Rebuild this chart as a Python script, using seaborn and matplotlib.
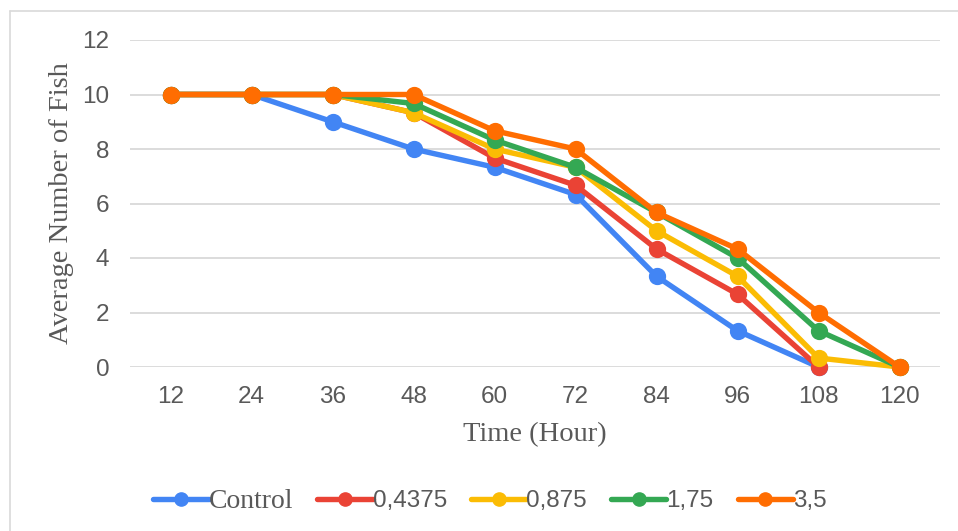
import numpy as np
import pandas as pd
import matplotlib
matplotlib.use("Agg")
import matplotlib.pyplot as plt
from matplotlib.lines import Line2D
import seaborn as sns

hours = ["12", "24", "36", "48", "60", "72", "84", "96", "108", "120"]
control = [10, 10, 9, 8, 7.33, 6.33, 3.33, 1.33, 0, np.nan]
c_04375 = [10, 10, 10, 9.33, 7.67, 6.67, 4.33, 2.67, 0, np.nan]
c_0875 = [10, 10, 10, 9.33, 8, 7.33, 5, 3.33, 0.33, 0]
c_175 = [10, 10, 10, 9.67, 8.33, 7.33, 5.67, 4, 1.33, 0]
c_35 = [10, 10, 10, 10, 8.67, 8, 5.67, 4.33, 2, 0]
series_names = ["Control", "0,4375", "0,875", "1,75", "3,5"]
colors = ["#4285F4", "#EA4335", "#FBBC04", "#34A853", "#FF6D01"]

rows = []
for name, vals in zip(series_names, [control, c_04375, c_0875, c_175, c_35]):
    for h, v in zip(hours, vals):
        rows.append({"Time": h, "Value": v, "Series": name})
df = pd.DataFrame(rows)

sns.set_style("white")
plt.rcParams["font.family"] = ["Liberation Sans", "DejaVu Sans"]

W, H = 958, 531
fig = plt.figure(figsize=(W / 100, H / 100), dpi=100)
ax = fig.add_axes([130 / W, (H - 367) / H, 810 / W, 327 / H])

LW, MS = 3.9, 9.5
sns.pointplot(data=df, x="Time", y="Value", hue="Series", order=hours,
              hue_order=series_names, palette=colors, markers="o",
              linestyles="-", errorbar=None, dodge=False, ax=ax,
              markersize=MS, linewidth=LW, legend=False)

for art in ax.lines + ax.collections:
    art.set_clip_on(False)

ax.set_xlim(-0.5, 9.5)
ax.set_ylim(0, 12)
ax.set_yticks(np.arange(0, 13, 2))
ax.grid(axis="y", color="#d9d9d9", linewidth=1.3)
ax.set_axisbelow(True)
for s in ax.spines.values():
    s.set_visible(False)
ax.tick_params(axis="both", length=0, labelsize=17.5, labelcolor="#595959")
ax.tick_params(axis="y", pad=15)
ax.tick_params(axis="x", pad=14)

ax.set_xlabel("Time (Hour)", family=["Liberation Serif"], fontsize=20.5,
              color="#595959", va="center")
ax.xaxis.set_label_coords(0.5, (367 - 435) / 327)
ax.set_ylabel("Average Number of Fish", family=["Liberation Serif"], fontsize=20.5,
              color="#595959", va="center")
ax.yaxis.set_label_coords((62 - 130) / 810, 0.5)

handles = [Line2D([0], [0], color=c, lw=LW, marker="o", markersize=MS)
           for c in colors]
leg = fig.legend(handles, series_names, loc="center", bbox_to_anchor=(490 / W, (H - 501) / H),
                 ncol=5, frameon=False, fontsize=17.5, handlelength=2.27,
                 handletextpad=0.0, columnspacing=1.0, labelcolor="#595959")
for t in leg.get_texts():
    if t.get_text() == "Control":
        t.set_family(["Liberation Serif"])
        t.set_fontsize(20)

fig.add_artist(Line2D([10 / W, 1], [(H - 11) / H, (H - 11) / H], color="#d9d9d9", lw=1.2,
                      transform=fig.transFigure))
fig.add_artist(Line2D([10 / W, 10 / W], [0, (H - 11) / H], color="#d9d9d9", lw=1.2,
                      transform=fig.transFigure))

fig.savefig("out.png", dpi=100, facecolor="white")
